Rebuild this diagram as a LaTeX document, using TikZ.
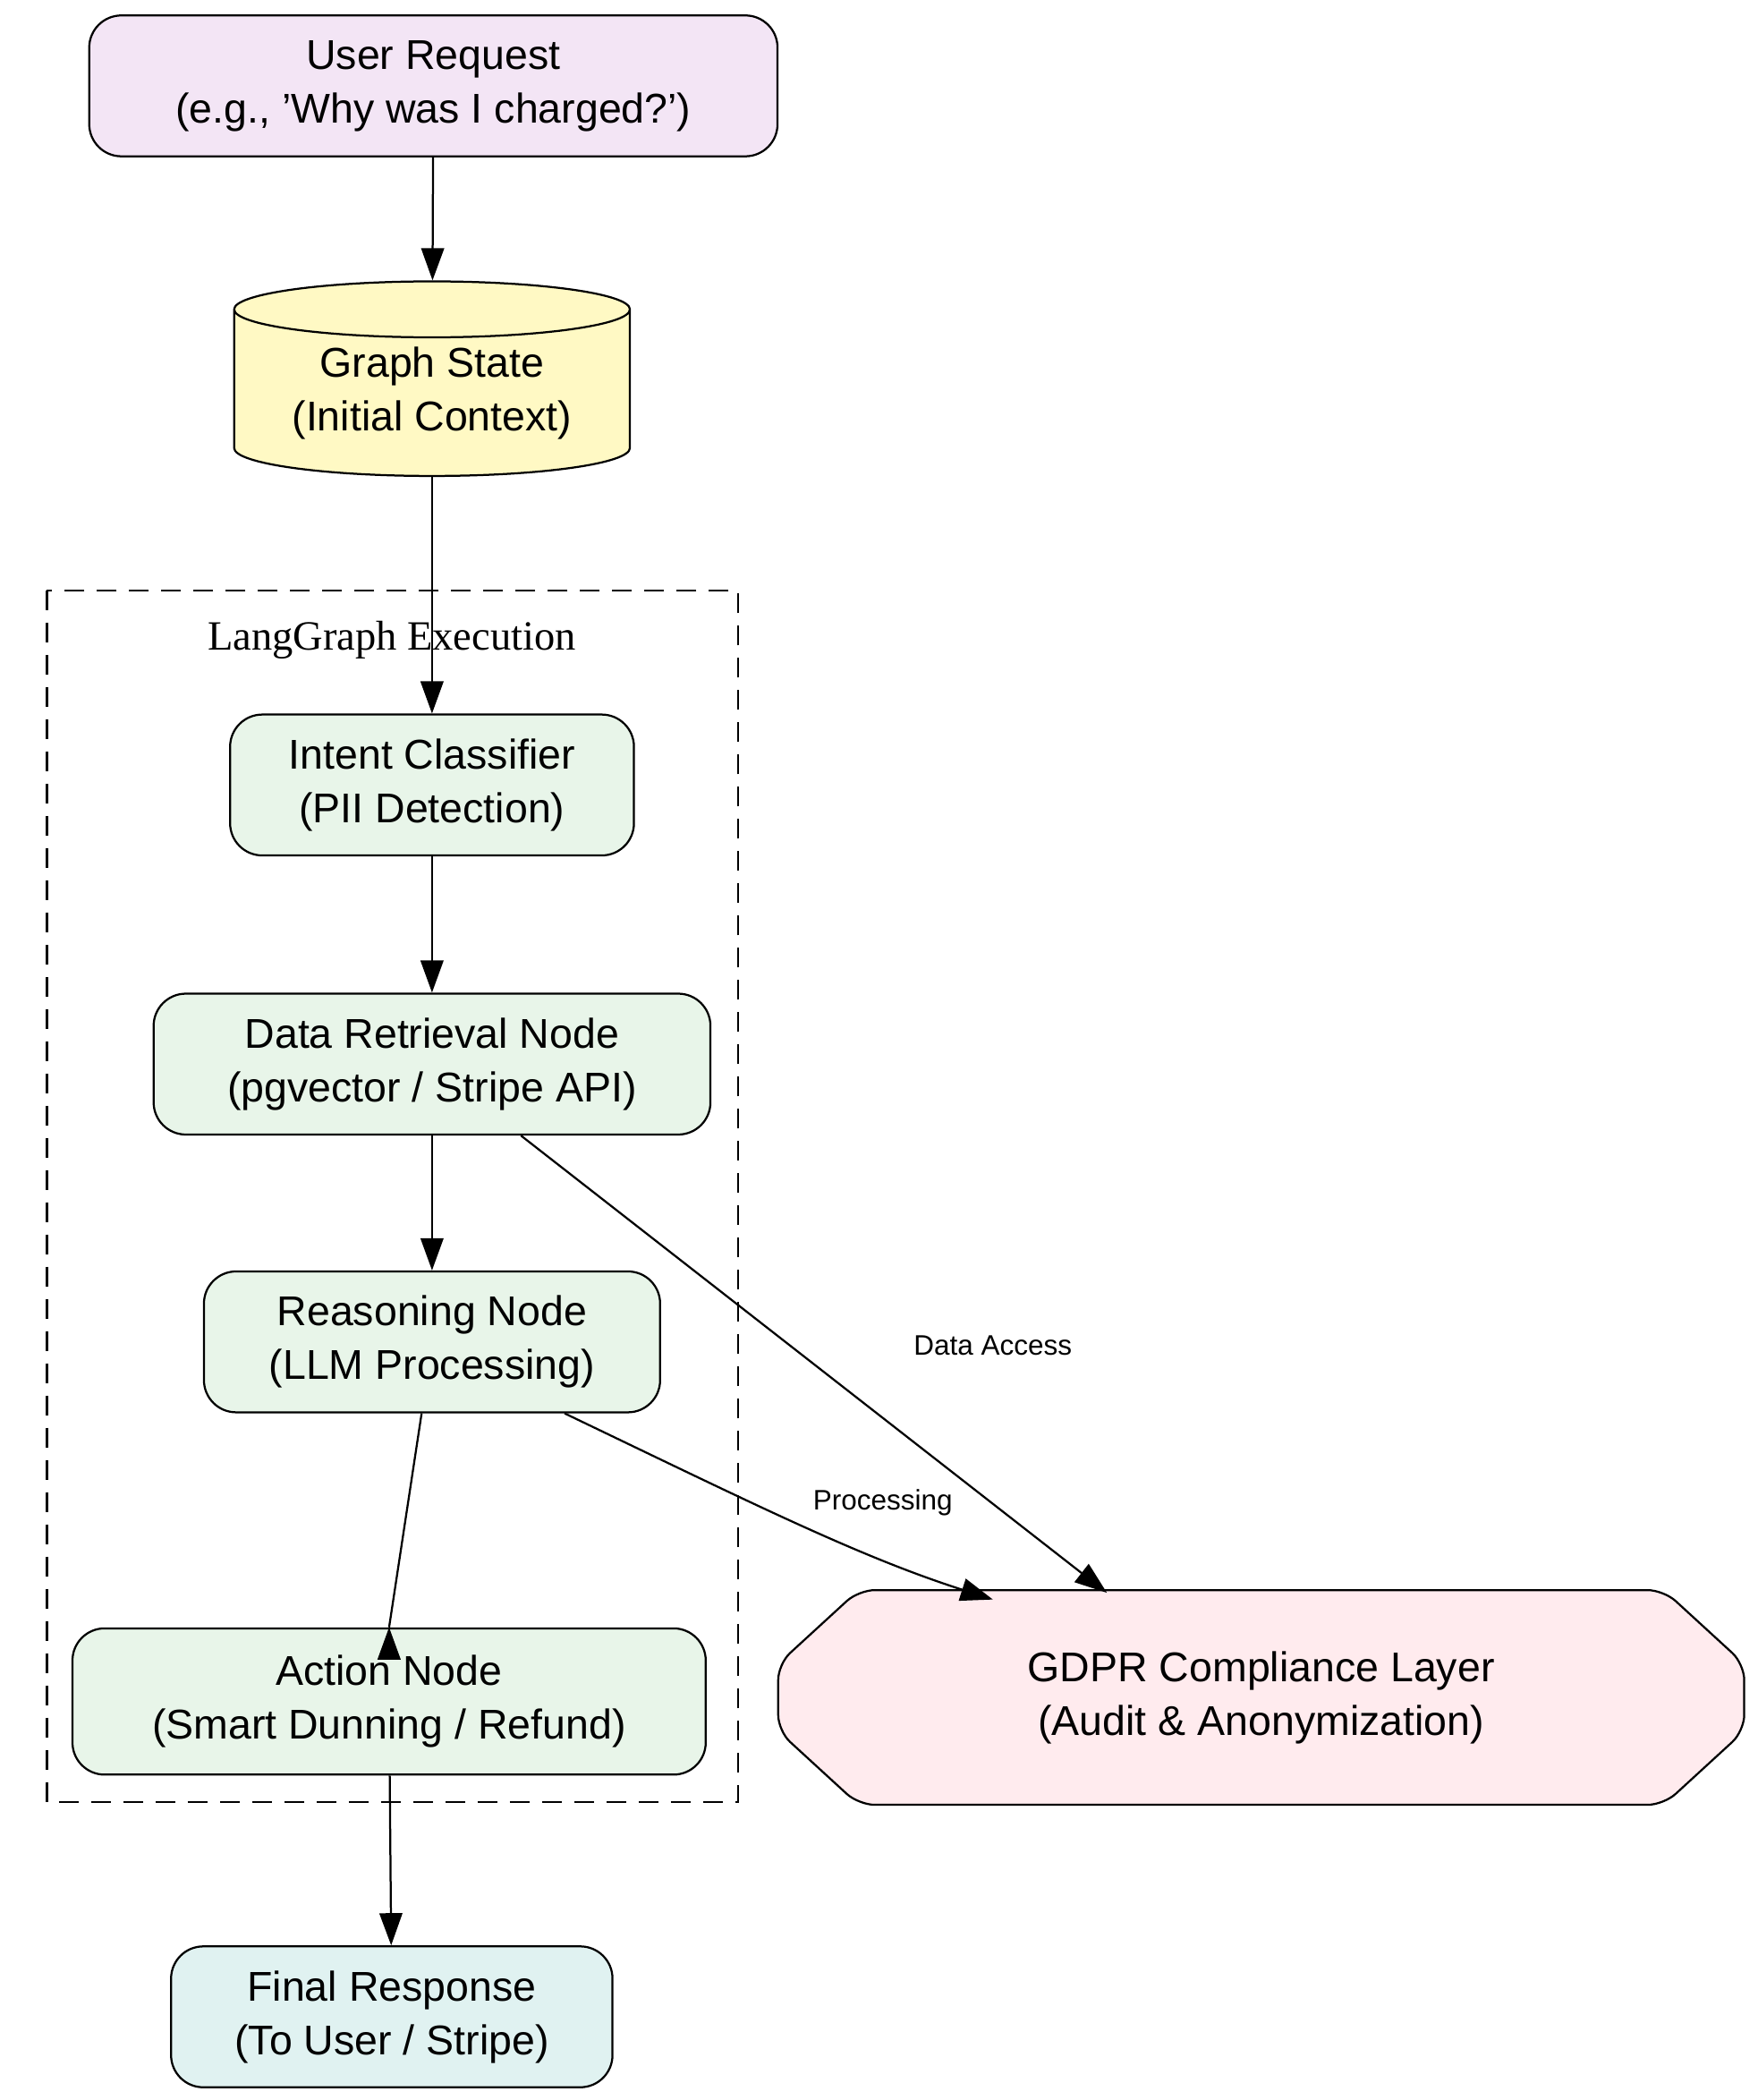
\documentclass[tikz,border=0pt]{standalone}
\usepackage{fontspec}
\setmainfont{Liberation Sans}
\newfontfamily\serifcl{Liberation Serif}
\usetikzlibrary{shapes.geometric,arrows.meta}
\begin{document}
\begin{tikzpicture}[x=1pt,y=-1pt,
  every node/.style={font=\fontsize{31}{40}\selectfont, align=center, line width=1.5pt},
  box/.style={draw, rounded corners=24pt, minimum height=105pt, inner sep=0pt},
  arr/.style={line width=1.5pt, -{Triangle[length=24pt,width=17pt]}},
  lab/.style={font=\fontsize{21}{24}\selectfont}]
\useasboundingbox (0,0) rectangle (1310,1565);
\draw[line width=1.5pt, dash pattern=on 15pt off 9pt] (35,440) rectangle (550,1343);
\node[font=\serifcl\fontsize{31}{36}\selectfont] (cl) at (292,477) {LangGraph Execution};
\node[box, fill=violet!10!white, fill={rgb,255:red,243;green,229;blue,245}, minimum width=513pt] (u) at (323,64) {User Request\\(e.g., 'Why was I charged?')};
\node[draw, cylinder, shape border rotate=90, aspect=0.2, fill={rgb,255:red,255;green,249;blue,196}, minimum width=295pt, minimum height=145pt, inner sep=0pt] (g) at (322,293) {Graph State\\(Initial Context)};
\node[box, fill={rgb,255:red,232;green,245;blue,233}, minimum width=301pt] (i) at (322,585) {Intent Classifier\\(PII Detection)};
\node[box, fill={rgb,255:red,232;green,245;blue,233}, minimum width=415pt] (d) at (322,793) {Data Retrieval Node\\(pgvector / Stripe API)};
\node[box, fill={rgb,255:red,232;green,245;blue,233}, minimum width=340pt] (r) at (322,1000) {Reasoning Node\\(LLM Processing)};
\node[box, fill={rgb,255:red,232;green,245;blue,233}, minimum width=472pt, minimum height=109pt] (a) at (290,1268) {Action Node\\(Smart Dunning / Refund)};
\node[box, fill={rgb,255:red,224;green,242;blue,241}, minimum width=329pt] (f) at (292,1503) {Final Response\\(To User / Stripe)};
\coordinate (o1) at (640,1185); \coordinate (o2) at (1240,1185);
\coordinate (o3) at (1300,1240); \coordinate (o4) at (1300,1290);
\coordinate (o5) at (1240,1345); \coordinate (o6) at (640,1345);
\coordinate (o7) at (580,1290); \coordinate (o8) at (580,1240);
\draw[line width=1.5pt, rounded corners=12pt, fill={rgb,255:red,255;green,235;blue,238}] (o1)--(o2)--(o3)--(o4)--(o5)--(o6)--(o7)--(o8)--cycle;
\node (gd) at (940,1265) {GDPR Compliance Layer\\(Audit \& Anonymization)};
\coordinate (gdA) at (825,1187);
\coordinate (gdP) at (740,1192);
\draw[arr] (u) -- (g);
\draw[arr] (g.bottom) -- (i);
\draw[arr] (i) -- (d);
\draw[arr] (d) -- (r);
\draw[arr] (r.south west) ++(163,0) coordinate (rs) -- (a.north) ++(0,0);
\draw[arr] (d.south east) ++(-142,0) coordinate (ds) -- (gdA);
\draw[arr] (r.south east) ++(-72,0) coordinate (re) .. controls (560,1120) and (640,1160) .. (gdP);
\draw[arr] (a) -- (f);
\node[lab] (la) at (740,1003) {Data Access};
\node[lab] (lp) at (658,1120) {Processing};
\end{tikzpicture}
\end{document}
